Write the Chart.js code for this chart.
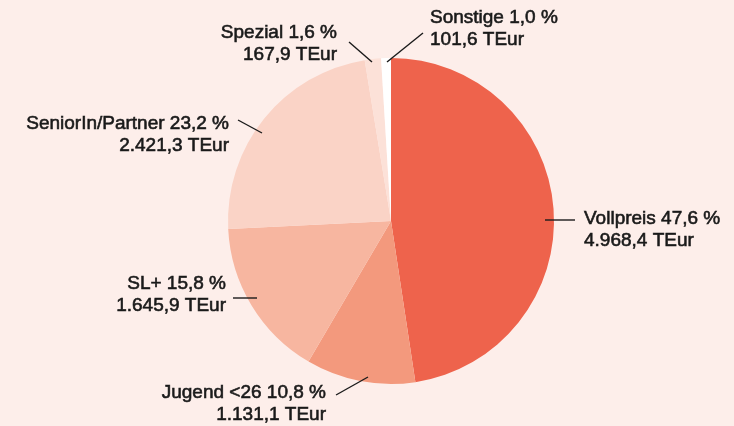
<!DOCTYPE html>
<html>
<head>
<meta charset="utf-8">
<script src="https://cdn.jsdelivr.net/npm/chart.js@4"></script>
<style>
  html, body { margin: 0; padding: 0; background: #fdeeea; }
  #wrap { width: 734px; height: 426px; }
</style>
</head>
<body>
<div id="wrap"><canvas id="myChart"></canvas></div>
<script>
const categories = ['Vollpreis', 'Jugend <26', 'SL+', 'SeniorIn/Partner', 'Spezial', 'Sonstige']
const values = [4968.4, 1131.1, 1645.9, 2421.3, 167.9, 101.6]
const percents = [47.6, 10.8, 15.8, 23.2, 1.6, 1.0]
const colors = ['#ee634c', '#f3997d', '#f7b6a0', '#fad3c6', '#fce1d8', '#ffffff']

// where each label sits: leader line (x1, y1, x2, y2), text anchor, alignment
const labelLayout = [
    { line: [545, 220, 575, 220], text: [584, 219], align: 'left' },
    { line: [368, 377, 336, 395], text: [326, 393], align: 'right' },
    { line: [257, 298, 233, 298], text: [226, 284], align: 'right' },
    { line: [262, 133, 238, 120], text: [229, 124], align: 'right' },
    { line: [372, 62, 349, 42], text: [337, 33], align: 'right' },
    { line: [387, 62, 423, 33], text: [430, 18], align: 'left' },
]

function fmtPct(p) {
    return p.toFixed(1).replace('.', ',') + ' %'
}

function fmtVal(v) {
    const parts = v.toFixed(1).split('.')
    const whole = parts[0].replace(/\B(?=(\d{3})+(?!\d))/g, '.')
    return whole + ',' + parts[1] + ' TEur'
}

// text with a thin outline, so it reads like a medium weight
function drawText(ctx, s, x, y) {
    ctx.fillText(s, x, y)
    ctx.strokeText(s, x, y)
}

const sliceLabels = {
    id: 'sliceLabels',
    afterDraw(chart) {
        const ctx = chart.ctx
        ctx.save()
        ctx.strokeStyle = '#1a1a1a'
        ctx.fillStyle = '#1a1a1a'
        ctx.font = '19px "Liberation Sans", Arial, sans-serif'
        ctx.textBaseline = 'middle'
        categories.forEach((name, i) => {
            const l = labelLayout[i]
            ctx.lineWidth = 1.4
            ctx.beginPath()
            ctx.moveTo(l.line[0], l.line[1])
            ctx.lineTo(l.line[2], l.line[3])
            ctx.stroke()
            ctx.lineWidth = 0.6
            ctx.textAlign = l.align
            drawText(ctx, name + ' ' + fmtPct(percents[i]), l.text[0], l.text[1])
            drawText(ctx, fmtVal(values[i]), l.text[0], l.text[1] + 22)
        })
        ctx.restore()
    },
}

const data = {
    labels: categories,
    datasets: [
        {
            data: values,
            backgroundColor: colors,
            borderWidth: 0,
        },
    ],
}

const config = {
    type: 'pie',
    data: data,
    options: {
        responsive: true,
        maintainAspectRatio: false,
        animation: false,
        layout: { padding: { left: 228, right: 180, top: 58, bottom: 42 } },
        plugins: {
            legend: { display: false },
            tooltip: { enabled: false },
        },
    },
    plugins: [sliceLabels],
}

const myChart = new Chart(document.getElementById('myChart'), config)
</script>
</body>
</html>
